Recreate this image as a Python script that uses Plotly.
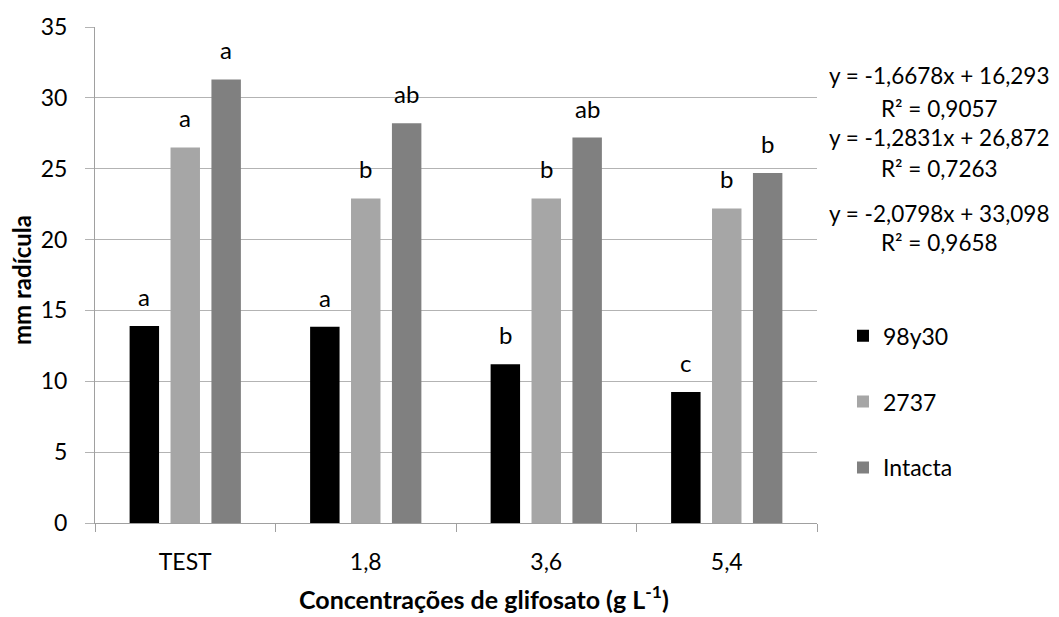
import plotly.graph_objects as go

categories = ["TEST", "1,8", "3,6", "5,4"]
series_names = ["98y30", "2737", "Intacta"]
v_98y30 = [13.9, 13.85, 11.2, 9.25]
v_2737 = [26.5, 22.9, 22.9, 22.2]
v_intacta = [31.3, 28.2, 27.2, 24.7]
letters_98y30 = ["a", "a", "b", "c"]
letters_2737 = ["a", "b", "b", "b"]
letters_intacta = ["a", "ab", "ab", "b"]
colors = ["#000000", "#a6a6a6", "#808080"]
equations = [
    ("y = -1,6678x + 16,293", "R² = 0,9057"),
    ("y = -1,2831x + 26,872", "R² = 0,7263"),
    ("y = -2,0798x + 33,098", "R² = 0,9658"),
]
y_ticks = [0, 5, 10, 15, 20, 25, 30, 35]

FONT = "Lato, 'Open Sans', sans-serif"
BODY = 8  # default page margin of the html body
L, T, R, B = 87, 19, 242, 94
W, H = 1059 - BODY, 617 - BODY
PW = W - L - R
PH = H - T - B
BARGAP = 0.32


def px(xabs):
    return (xabs - BODY - L) / PW


def py(yabs):
    return 1 - (yabs - BODY - T) / PH


fig = go.Figure()
all_vals = [v_98y30, v_2737, v_intacta]
all_lets = [letters_98y30, letters_2737, letters_intacta]
for name, vals, col in zip(series_names, all_vals, colors):
    fig.add_trace(go.Bar(
        x=categories, y=vals, name=name, marker=dict(color=col, line=dict(width=0)),
        legendgroup=name,
    ))

slot = (1 - BARGAP) * (PW / len(categories)) / len(series_names)
for i, (vals, lets) in enumerate(zip(all_vals, all_lets)):
    shift = (i - (len(series_names) - 1) / 2) * slot
    for c, v, l in zip(categories, vals, lets):
        fig.add_annotation(x=c, y=v, text=l, xref="x", yref="y", showarrow=False,
                           xanchor="center", yanchor="bottom", xshift=shift, yshift=13,
                           font=dict(family=FONT, size=24, color="#000000"))

fig.update_layout(
    width=W, height=H,
    margin=dict(l=L, r=R, t=T, b=B, autoexpand=False),
    paper_bgcolor="white", plot_bgcolor="white",
    barmode="group", bargap=BARGAP, bargroupgap=0.28,
    font=dict(family=FONT, size=23, color="#000000"),
    showlegend=True,
    legend=dict(x=1.036, y=0.421, xanchor="left", yanchor="top",
                font=dict(family=FONT, size=23), tracegroupgap=33,
                itemwidth=30),
    xaxis=dict(
        showgrid=False, showline=True, linecolor="#a0a0a0", linewidth=1,
        ticks="outside", tickson="boundaries", ticklen=8, tickcolor="#a0a0a0",
        tickfont=dict(family=FONT, size=23), ticklabelstandoff=18,
        automargin=False,
    ),
    yaxis=dict(
        range=[0, 35], tickvals=y_ticks, showgrid=True, gridcolor="#b3b3b3", gridwidth=1,
        showline=True, linecolor="#a0a0a0", linewidth=1,
        ticks="outside", ticklen=9, tickcolor="#b3b3b3",
        tickfont=dict(family=FONT, size=23), ticklabelstandoff=13,
        zeroline=False, automargin=False,
    ),
)

# axis titles
fig.add_annotation(text="<b>Concentrações de glifosato (g L<sup>-1</sup>)</b>", xref="paper", yref="paper",
                   x=px(484), y=py(597), xanchor="center", yanchor="middle", showarrow=False,
                   font=dict(family=FONT, size=25))
fig.add_annotation(text="<b>mm radícula</b>", xref="paper", yref="paper", textangle=-90,
                   x=px(21), y=py(280), xanchor="center", yanchor="middle", showarrow=False,
                   borderpad=0, font=dict(family=FONT, size=24))

eq_pos = [(76, 109), (137, 168), (213, 242)]
for (eq, r2), (y1, y2) in zip(equations, eq_pos):
    fig.add_annotation(text=eq, xref="paper", yref="paper", x=px(939), y=py(y1),
                       xanchor="center", yanchor="middle", showarrow=False, borderpad=0,
                       font=dict(family=FONT, size=22.5))
    fig.add_annotation(text=r2, xref="paper", yref="paper", x=px(939), y=py(y2),
                       xanchor="center", yanchor="middle", showarrow=False, borderpad=0,
                       font=dict(family=FONT, size=22.5))

fig.write_html("out.html")
